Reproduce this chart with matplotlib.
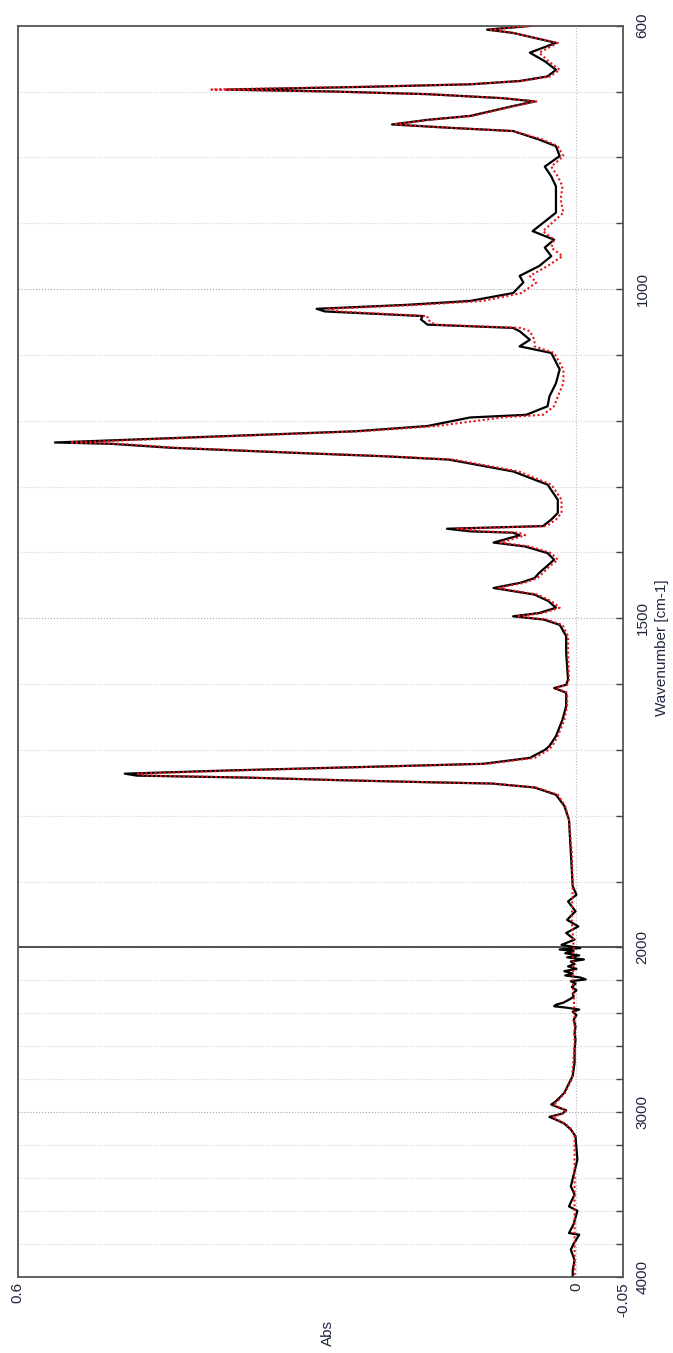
import numpy as np
import matplotlib
matplotlib.use("Agg")
import matplotlib.pyplot as plt

plt.rcParams['font.family'] = ['Liberation Sans', 'DejaVu Sans']

# wavenumbers shared by both spectra (600 - 1907 cm-1)
wn_main = [600, 606, 611, 626, 641, 654, 667, 677, 684, 689, 693, 697, 700, 704, 710, 715,
           722, 737, 743, 750, 755, 760, 773, 783, 798, 814, 829, 844, 864, 884, 912, 925,
           937, 950, 965, 980, 990, 1006, 1018, 1024, 1030, 1034, 1041, 1046, 1054, 1059, 1064,
           1077, 1087, 1097, 1122, 1143, 1163, 1178, 1191, 1195, 1208, 1216, 1224, 1233, 1235,
           1241, 1249, 1254, 1259, 1277, 1297, 1320, 1340, 1350, 1360, 1364, 1368, 1370, 1374,
           1385, 1391, 1401, 1411, 1420, 1431, 1439, 1446, 1454, 1464, 1474, 1484, 1492, 1497,
           1502, 1510, 1527, 1553, 1593, 1601, 1606, 1613, 1633, 1654, 1679, 1694, 1700, 1712,
           1721, 1725, 1731, 1736, 1739, 1742, 1746, 1749, 1751, 1757, 1768, 1785, 1806, 1856, 1907]

abs_black_main = [0.047, 0.096, 0.068, 0.022, 0.050, 0.034, 0.022, 0.031, 0.061, 0.114, 0.230, 0.376, 0.260, 0.160, 0.080, 0.045,
                  0.068, 0.114, 0.160, 0.198, 0.137, 0.068, 0.040, 0.022, 0.018, 0.034, 0.027, 0.022, 0.022, 0.022, 0.047, 0.024,
                  0.034, 0.027, 0.040, 0.061, 0.057, 0.068, 0.114, 0.183, 0.279, 0.270, 0.165, 0.167, 0.160, 0.068, 0.061,
                  0.050, 0.061, 0.027, 0.018, 0.022, 0.029, 0.031, 0.054, 0.114, 0.160, 0.238, 0.390, 0.560, 0.500,
                  0.436, 0.298, 0.206, 0.137, 0.068, 0.031, 0.020, 0.020, 0.027, 0.036, 0.139, 0.114, 0.068, 0.061,
                  0.089, 0.055, 0.031, 0.024, 0.031, 0.040, 0.045, 0.060, 0.089, 0.045, 0.030, 0.022, 0.040, 0.068,
                  0.035, 0.018, 0.011, 0.011, 0.009, 0.011, 0.024, 0.011, 0.011, 0.015, 0.022, 0.029, 0.034, 0.050,
                  0.100, 0.206, 0.371, 0.485, 0.472, 0.353, 0.252, 0.160, 0.091, 0.045, 0.022, 0.013, 0.008, 0.006, 0.004]

abs_red_main = [0.047, 0.092, 0.068, 0.020, 0.040, 0.030, 0.018, 0.028, 0.058, 0.114, 0.240, 0.392, 0.270, 0.160, 0.080, 0.043,
                0.066, 0.112, 0.158, 0.196, 0.137, 0.068, 0.036, 0.020, 0.014, 0.027, 0.020, 0.015, 0.017, 0.014, 0.036, 0.024,
                0.027, 0.015, 0.031, 0.050, 0.043, 0.059, 0.100, 0.170, 0.266, 0.255, 0.160, 0.160, 0.152, 0.060, 0.050,
                0.045, 0.045, 0.024, 0.014, 0.014, 0.020, 0.024, 0.036, 0.080, 0.150, 0.230, 0.380, 0.544, 0.490,
                0.430, 0.292, 0.200, 0.132, 0.062, 0.027, 0.016, 0.016, 0.022, 0.032, 0.128, 0.100, 0.062, 0.055,
                0.082, 0.050, 0.027, 0.020, 0.028, 0.036, 0.042, 0.056, 0.085, 0.042, 0.027, 0.018, 0.036, 0.064,
                0.032, 0.015, 0.009, 0.009, 0.008, 0.010, 0.022, 0.010, 0.010, 0.013, 0.020, 0.026, 0.030, 0.045,
                0.095, 0.200, 0.360, 0.471, 0.462, 0.350, 0.250, 0.158, 0.090, 0.043, 0.020, 0.012, 0.008, 0.005, 0.004]

# noisy high-wavenumber part of the black spectrum
wn_black_tail = [1920, 1930, 1945, 1958, 1968, 1978, 1988, 1996, 2004, 2012, 2022, 2035, 2048, 2060, 2073,
                 2085, 2100, 2115, 2130, 2144, 2158, 2170, 2182, 2194, 2205, 2220, 2240, 2260, 2280, 2300,
                 2320, 2335, 2348, 2357, 2366, 2377, 2390, 2410, 2440, 2480, 2520, 2560, 2620, 2700, 2780,
                 2802, 2883, 2934, 2954, 2975, 2989, 3009, 3029, 3046, 3070, 3106, 3147, 3289, 3380, 3451,
                 3500, 3573, 3600, 3680, 3735, 3745, 3800, 3836, 3900, 3960, 4000]
abs_black_tail = [0.000, 0.009, 0.001, 0.010, -0.002, 0.011, 0.002, 0.016, -0.004, 0.018, 0.003, 0.012, -0.003, 0.010, -0.008,
                  0.006, 0.002, 0.009, 0.000, 0.013, 0.004, 0.012, -0.004, -0.010, 0.006, 0.001, 0.005, 0.000, 0.004, 0.003,
                  0.009, 0.014, 0.022, 0.024, 0.010, -0.003, 0.004, 0.000, 0.003, 0.001, 0.002, 0.001, 0.002, 0.002, 0.004,
                  0.006, 0.013, 0.022, 0.027, 0.018, 0.011, 0.015, 0.029, 0.022, 0.013, 0.006, 0.001, -0.001, 0.003, 0.006,
                  0.002, 0.008, -0.001, 0.003, 0.008, -0.003, 0.003, 0.006, 0.002, 0.004, 0.004]

wn_red_tail = [1960, 2000, 2050, 2100, 2200, 2300, 2400, 2600, 2800, 2880, 2934, 2954, 2975, 2989, 3009,
               3029, 3046, 3070, 3106, 3147, 3400, 3700, 4000]
abs_red_tail = [0.005, 0.003, 0.004, 0.003, 0.004, 0.003, 0.002, 0.002, 0.005, 0.012, 0.020, 0.025, 0.017, 0.011, 0.014,
                0.026, 0.020, 0.012, 0.005, 0.002, 0.002, 0.002, 0.002]

wn_black = wn_main + wn_black_tail
abs_black = abs_black_main + abs_black_tail
wn_red = wn_main + wn_red_tail
abs_red = abs_red_main + abs_red_tail

wn_ticks = list(range(600, 2001, 100)) + list(range(2200, 4001, 200))
wn_labeled = [600, 1000, 1500, 2000, 3000, 4000]


# axis is compressed 4x above 2000 cm-1
def fwd(w):
    w = np.asarray(w, dtype=float)
    return np.where(w <= 2000, w, 2000 + (w - 2000) * 0.25)


def inv(u):
    u = np.asarray(u, dtype=float)
    return np.where(u <= 2000, u, 2000 + (u - 2000) * 4.0)


fig = plt.figure(figsize=(6.73, 13.53), dpi=100)
ax = fig.add_axes([17.7 / 673, 1 - 1276.7 / 1353, (623 - 17.7) / 673, (1276.7 - 25.7) / 1353])
ax.set_yscale('function', functions=(fwd, inv))
ax.set_ylim(4000, 600)
ax.set_xlim(0.6, -0.05)

# grid
for w in wn_ticks:
    col = '#a8a8a8' if w in wn_labeled else '#d0d0d0'
    ax.axhline(w, color=col, linestyle=':', linewidth=0.8, zorder=0)
ax.axvline(0, color='#b8b8b8', linestyle=':', linewidth=0.8, zorder=0)
ax.axhline(2000, color='#333333', linewidth=1.2, zorder=1)

ax.plot(abs_black, wn_black, color='black', linewidth=1.6, zorder=2)
ax.plot(abs_red, wn_red, color='#e8141c', linewidth=1.5, linestyle=(0, (1, 1.2)), zorder=3)

txt_col = '#1f2640'
ax.yaxis.tick_right()
ax.set_yticks(wn_ticks)
ax.set_yticklabels([str(w) if w in wn_labeled else '' for w in wn_ticks],
                   rotation=90, va='center', color=txt_col, fontsize=11)
ax.tick_params(axis='y', direction='in', length=5, width=1.0, color='#444444', pad=9)
ax.yaxis.set_minor_locator(matplotlib.ticker.NullLocator())

ax.set_xticks([0.6, 0, -0.05])
ax.set_xticklabels(['0.6', '0', '-0.05'], rotation=90, color=txt_col, fontsize=11)
ax.tick_params(axis='x', length=0, pad=4)

for sp in ax.spines.values():
    sp.set_color('#555555')
    sp.set_linewidth(1.3)

fig.text(662 / 673, 1 - 648 / 1353, 'Wavenumber [cm-1]', rotation=90, ha='center', va='center',
         color=txt_col, fontsize=11)
fig.text(328 / 673, 1 - 1333 / 1353, 'Abs', rotation=90, ha='center', va='center',
         color=txt_col, fontsize=11)

fig.savefig('out.png', dpi=100)
